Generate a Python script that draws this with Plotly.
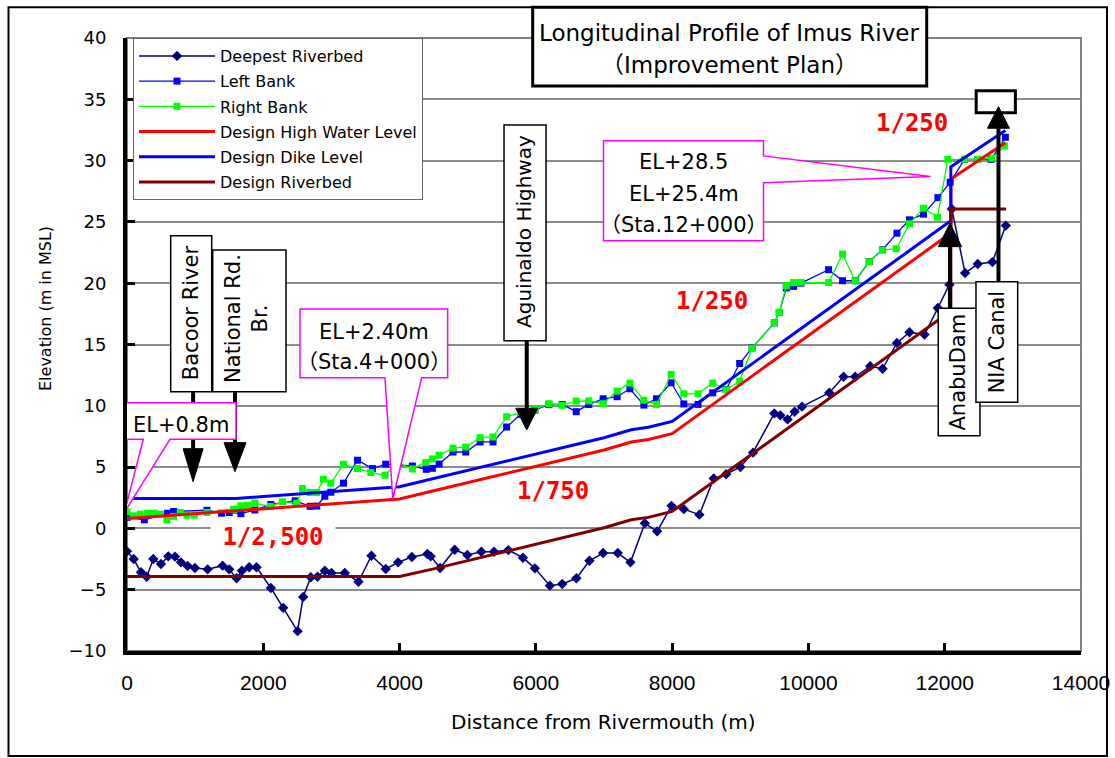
import plotly.graph_objects as go

# ---------------- survey profile (distance from river mouth [m], elevation [m MSL]) ----------------
deep_x = [0, 98, 205, 289, 386, 498, 606, 704, 792, 890,
          997, 1183, 1403, 1500, 1608, 1686, 1793, 1901, 2111, 2292,
          2503, 2585, 2697, 2796, 2903, 3001, 3196, 3397, 3587, 3797,
          3978, 4180, 4408, 4457, 4594, 4809, 4995, 5200, 5385, 5596,
          5810, 5986, 6206, 6387, 6595, 6786, 6987, 7202, 7388, 7599,
          7780, 7990, 8171, 8400, 8610, 8792, 9001, 9187, 9499, 9587,
          9694, 9797, 9905, 10306, 10516, 10686, 10907, 11088, 11299, 11483,
          11703, 11899, 12069, 12104, 12299, 12485, 12700, 12896]
deep_y = [-1.87, -2.50, -3.58, -3.94, -2.50, -2.90, -2.28, -2.30, -2.77, -3.07,
          -3.23, -3.34, -3.04, -3.34, -4.07, -3.45, -3.17, -3.17, -4.86, -6.48,
          -8.38, -5.60, -3.99, -3.94, -3.45, -3.64, -3.64, -4.35, -2.23, -3.31,
          -2.77, -2.33, -2.09, -2.28, -3.23, -1.74, -2.17, -1.90, -1.90, -1.77,
          -2.39, -3.26, -4.67, -4.53, -4.07, -2.64, -2.01, -2.01, -2.77, 0.41,
          -0.24, 1.84, 1.57, 1.12, 4.07, 4.42, 5.01, 6.18, 9.38, 9.22,
          8.89, 9.52, 9.93, 11.07, 12.37, 12.37, 13.23, 13.02, 15.13, 16.00,
          15.81, 17.98, 19.88, 26.06, 20.83, 21.56, 21.72, 24.70]

left_x = [0, 254, 596, 684, 1173, 1388, 1500, 1671, 1876, 2111,
          2468, 2687, 2785, 2903, 2991, 3177, 3382, 3602, 3797, 4188,
          4393, 4481, 4580, 4785, 4971, 5181, 5372, 5571, 5776, 5986,
          6191, 6387, 6592, 6777, 6987, 7193, 7380, 7585, 7770, 7985,
          8171, 8380, 8595, 8792, 8991, 9173, 9499, 9572, 9675, 9783,
          9890, 10296, 10501, 10687, 10892, 11088, 11299, 11483, 11689, 11900,
          12080, 12290, 12485, 12681, 12890]
left_y = [0.90, 0.70, 1.24, 1.38, 1.48, 1.24, 1.30, 1.20, 1.50, 1.95,
          2.25, 1.80, 1.82, 2.62, 2.95, 3.69, 5.56, 4.88, 5.24, 5.09,
          4.82, 4.90, 5.25, 6.23, 6.23, 7.05, 7.05, 8.27, 9.30, 9.65,
          10.11, 10.11, 9.52, 10.11, 10.57, 10.74, 11.39, 10.06, 10.57, 11.88,
          10.15, 10.11, 11.06, 11.33, 13.45, 14.73, 16.76, 17.62, 19.61, 19.74,
          20.00, 21.10, 20.20, 20.20, 21.77, 22.73, 24.08, 25.17, 25.63, 26.98,
          28.23, 30.10, 30.10, 30.10, 31.90]

right_x = [0, 92, 195, 302, 400, 488, 586, 684, 782, 880,
           987, 1173, 1564, 1671, 1769, 1876, 2101, 2282, 2492, 2575,
           2687, 2785, 2883, 2991, 3177, 3382, 3577, 3787, 3969, 4188,
           4384, 4481, 4580, 4785, 4971, 5181, 5372, 5571, 5776, 5986,
           6191, 6387, 6592, 6777, 6987, 7193, 7380, 7585, 7770, 7985,
           8171, 8380, 8595, 8792, 8991, 9173, 9499, 9572, 9675, 9783,
           9890, 10296, 10501, 10687, 10892, 11085, 11289, 11483, 11689, 11894,
           12045, 12289, 12485, 12690, 12876]
right_y = [1.35, 1.03, 1.16, 1.22, 1.24, 1.16, 0.68, 0.98, 1.30, 1.08,
           1.08, 1.30, 1.57, 1.84, 1.89, 2.06, 1.79, 2.17, 2.06, 3.25,
           2.93, 2.93, 4.01, 3.69, 5.23, 4.88, 4.56, 4.34, 5.37, 4.85,
           5.37, 5.67, 5.97, 6.55, 6.64, 7.40, 7.46, 9.11, 9.45, 9.71,
           10.17, 10.03, 10.38, 10.40, 10.17, 11.20, 11.85, 10.46, 10.11, 12.56,
           10.98, 10.98, 11.85, 11.30, 12.00, 14.70, 16.76, 17.62, 19.80, 20.05,
           20.07, 20.05, 22.38, 20.18, 21.75, 22.70, 22.81, 24.84, 26.12, 25.38,
           30.10, 30.10, 30.10, 30.19, 31.19]

# design profile
hwl_x = [0, 1000, 2000, 3000, 4000, 4500, 5000, 5500, 6000, 6500, 7000, 7400, 7650,
         8000, 9000, 10000, 11000, 12000, 12090, 12090, 12890]
hwl_y = [0.80, 1.20, 1.60, 2.00, 2.40, 3.07, 3.73, 4.40, 5.07, 5.73, 6.40, 7.05, 7.25,
         7.73, 11.73, 15.73, 19.73, 23.73, 24.09, 28.50, 31.45]
dike_x = [0, 1600, 2000, 3000, 4000, 4500, 5000, 5500, 6000, 6500, 7000, 7400, 7650,
          8000, 9000, 10000, 11000, 12000, 12090, 12090, 12890]
dike_y = [2.44, 2.44, 2.60, 3.00, 3.40, 4.07, 4.73, 5.40, 6.07, 6.73, 7.40, 8.05, 8.25,
          8.73, 12.73, 16.73, 20.73, 24.73, 25.09, 29.50, 32.45]
bed_x = [0, 4000, 4500, 5000, 5500, 6000, 6500, 7000, 7400, 7650,
         8000, 9000, 10000, 11000, 12000, 12090, 12090, 12900]
bed_y = [-3.92, -3.92, -3.30, -2.62, -1.95, -1.28, -0.62, 0.05, 0.70, 0.90,
         1.38, 5.38, 9.38, 13.38, 17.38, 17.74, 26.05, 26.05]

x_ticks = list(range(0, 14001, 2000))
y_ticks = list(range(-10, 41, 5))

# slope labels
slope_text = ["1/2,500", "1/750", "1/250", "1/250"]
slope_x = [2143, 6252, 8578, 11520]
slope_y = [-0.70, 3.05, 18.55, 33.07]

# ---------------- page geometry ----------------
W, H = 1115, 758
ML, MR, MT, MB = 127, 34, 38, 107
PW, PH = W - ML - MR, H - MT - MB


def fx(px):
    """page pixel column -> paper fraction"""
    return (px - ML) / PW


def fy(py):
    """page pixel row -> paper fraction"""
    return (MT + PH - py) / PH


FONT = "DejaVu Sans, Noto Sans CJK JP, sans-serif"
MONO = "DejaVu Sans Mono, monospace"
TICKX = "Liberation Sans, Arial, sans-serif"

fig = go.Figure()
series = [
    dict(x=deep_x, y=deep_y, name="Deepest Riverbed", mode="lines+markers",
         line=dict(color="#000080", width=1.5),
         marker=dict(symbol="diamond", size=8, color="#000080")),
    dict(x=left_x, y=left_y, name="Left Bank", mode="lines+markers",
         line=dict(color="#0000ff", width=1.3),
         marker=dict(symbol="square", size=7, color="#0000ff")),
    dict(x=right_x, y=right_y, name="Right Bank", mode="lines+markers",
         line=dict(color="#00ff00", width=1.3),
         marker=dict(symbol="square", size=7, color="#00ff00")),
    dict(x=hwl_x, y=hwl_y, name="Design High Water Level", mode="lines",
         line=dict(color="#ff0000", width=3)),
    dict(x=dike_x, y=dike_y, name="Design Dike Level", mode="lines",
         line=dict(color="#0000ff", width=3)),
    dict(x=bed_x, y=bed_y, name="Design Riverbed", mode="lines",
         line=dict(color="#800000", width=3)),
]
for s in series:
    fig.add_trace(go.Scatter(legendgroup=s["name"], **s))

shapes = []
annos = []


def pix(kind, xa, ya, **kw):
    d = dict(type=kind, xref="x", yref="y", xsizemode="pixel", ysizemode="pixel",
             xanchor=xa, yanchor=ya)
    d.update(kw)
    shapes.append(d)


def pix_path(xa, ya, pts, color="black", width=1.5, fill="white"):
    path = "M " + " L ".join(f"{a},{b}" for a, b in pts) + " Z"
    pix("path", xa, ya, path=path, line=dict(color=color, width=width), fillcolor=fill)


def label(xa, ya, text, dx, dy, size=21, angle=0):
    annos.append(dict(x=xa, y=ya, xref="x", yref="y", text=text, showarrow=False,
                      xanchor="center", yanchor="middle",
                      xshift=dx, yshift=dy, textangle=angle,
                      font=dict(family=FONT, size=size, color="black")))


def paper_text(px, py, text, size, angle=0):
    annos.append(dict(x=fx(px), y=fy(py), xref="paper", yref="paper", text=text,
                      showarrow=False, xanchor="center", yanchor="middle", textangle=angle,
                      font=dict(family=FONT, size=size, color="black")))


# plot frame (top / right in grey) and outer chart border
shapes.append(dict(type="rect", xref="paper", yref="paper", x0=0, x1=1, y0=0, y1=1,
                   line=dict(color="#808080", width=2), layer="below"))
shapes.append(dict(type="rect", xref="paper", yref="paper",
                   x0=fx(8.5), x1=fx(1107), y0=fy(756), y1=fy(7.3),
                   line=dict(color="black", width=2)))

# site markers: labelled box + arrow pointing at the station
sites = [
    dict(text="Bacoor River", x=970, y=3.81, head=(10, 33), shaft=90,
         box=(-22.4, 18.6, 90, 246), lab=(-2.6, 169), size=21),
    dict(text="National Rd.<br>Br.", x=1585, y=4.63, head=(11, 29), shaft=80,
         box=(-22.3, 51, 80, 221.7), lab=(12, 152.7), size=21),
    dict(text="Aguinaldo Highway", x=5866, y=8.03, head=(11, 21.7), shaft=89.3,
         box=(-22.7, 19.3, 89.3, 305), lab=(-2.7, 198), size=20),
    dict(text="AnabuDam", x=12077, y=24.89, head=(11.7, -23.4), shaft=-85,
         box=(-11.7, 30, -85, -212.4), lab=(8.3, -149), size=21),
    dict(text="NIA Canal", x=12789, y=34.40, head=(11, -21.6), shaft=-175,
         box=(-22.5, 19.2, -175, -295.6), lab=(-1.8, -235), size=21),
]
for s in sites:
    bx0, bx1, by0, by1 = s["box"]
    pix("rect", s["x"], s["y"], x0=bx0, x1=bx1, y0=by0, y1=by1,
        line=dict(color="black", width=1.5), fillcolor="white")
    label(s["x"], s["y"], s["text"], s["lab"][0], s["lab"][1], size=s["size"], angle=-90)
    hw, hh = s["head"]
    pix("line", s["x"], s["y"], x0=0, x1=0, y0=hh, y1=s["shaft"],
        line=dict(color="black", width=4))
    if s["text"] == "NIA Canal":
        pix("rect", s["x"], s["y"], x0=-22.3, x1=16.9, y0=-6, y1=16,
            line=dict(color="black", width=3), fillcolor="white")
    pix_path(s["x"], s["y"], [(0, 0), (-hw, hh), (hw, hh)], color="black", width=1, fill="black")

# elevation call-outs (magenta)
callouts = [
    dict(x=0, y=0.80,
         pts=[(-1, 79.3), (16.3, 79.3), (-2.5, 6.5), (43, 79.3), (109, 79.3), (109, 115.9), (-1, 115.9)],
         lines=["EL+0.8m"], tx=54, ty=[94]),
    dict(x=3900, y=2.40,
         pts=[(-92.8, 121.3), (-7.8, 121.3), (0, 0), (28.9, 121.3), (54.9, 121.3), (54.9, 190), (-92.8, 190)],
         lines=["EL+2.40m", "（Sta.4+000）"], tx=-19, ty=[167.3, 137.3]),
    dict(x=11790, y=28.7,
         pts=[(-326.9, -64.1), (-166.9, -64.1), (-166.9, -6.1), (0, 0), (-166.9, 20.6),
              (-166.9, 35.9), (-326.9, 35.9)],
         lines=["EL+28.5", "EL+25.4m", "（Sta.12+000）"], tx=-246.9, ty=[14.6, -17.4, -48.4]),
]
for c in callouts:
    pix_path(c["x"], c["y"], c["pts"], color="#ff00ff", width=1.5, fill="white")
    for t, dy in zip(c["lines"], c["ty"]):
        label(c["x"], c["y"], t, c["tx"], dy, size=21)

# slope labels
for t, sx, sy in zip(slope_text, slope_x, slope_y):
    extra = dict(bgcolor="white", width=124, borderpad=0) if t == "1/2,500" else {}
    annos.append(dict(x=sx, y=sy, xref="x", yref="y", text=t, showarrow=False,
                      xanchor="center", yanchor="middle",
                      font=dict(family=MONO, size=24, color="#ff0000", weight="bold"), **extra))

# chart title box
shapes.append(dict(type="rect", xref="paper", yref="paper",
                   x0=fx(532.7), x1=fx(926.7), y0=fy(86), y1=fy(7.3),
                   line=dict(color="black", width=3), fillcolor="white"))
paper_text(729.7, 33.3, "Longitudinal Profile of Imus River", 23)
paper_text(729.7, 65, "（Improvement Plan）", 23)

# axis titles
paper_text(45, 309, "Elevation (m in MSL)", 16, angle=-90)
paper_text(603, 721.5, "Distance from Rivermouth (m)", 20)

fig.update_layout(
    width=W, height=H, autosize=False,
    margin=dict(l=ML, r=MR, t=MT, b=MB, pad=0, autoexpand=False),
    paper_bgcolor="white", plot_bgcolor="white",
    shapes=shapes, annotations=annos,
    showlegend=True,
    legend=dict(x=fx(133), y=fy(38), xanchor="left", yanchor="top",
                bgcolor="white", bordercolor="#666666", borderwidth=1,
                itemwidth=76, traceorder="grouped",
                font=dict(family=FONT, size=16, color="black"), tracegroupgap=1.4),
    xaxis=dict(range=[0, 14000], tickvals=x_ticks, ticktext=[str(v) for v in x_ticks],
               automargin=False,
               showgrid=False, zeroline=False, showline=True, linecolor="black", linewidth=4,
               ticks="inside", ticklen=8, tickwidth=3, tickcolor="black",
               ticklabelstandoff=10, ticklabeloverflow="allow",
               tickfont=dict(family=TICKX, size=21, color="black")),
    yaxis=dict(range=[-10, 40], tickvals=y_ticks, showgrid=True, gridcolor="#8c8c8c",
               automargin=False,
               gridwidth=1.5, zeroline=False, showline=True, linecolor="black", linewidth=4,
               ticks="inside", ticklen=8, tickwidth=3, tickcolor="black",
               ticklabelstandoff=13,
               tickfont=dict(family=FONT, size=18, color="black")),
)

fig.write_html("out.html")
